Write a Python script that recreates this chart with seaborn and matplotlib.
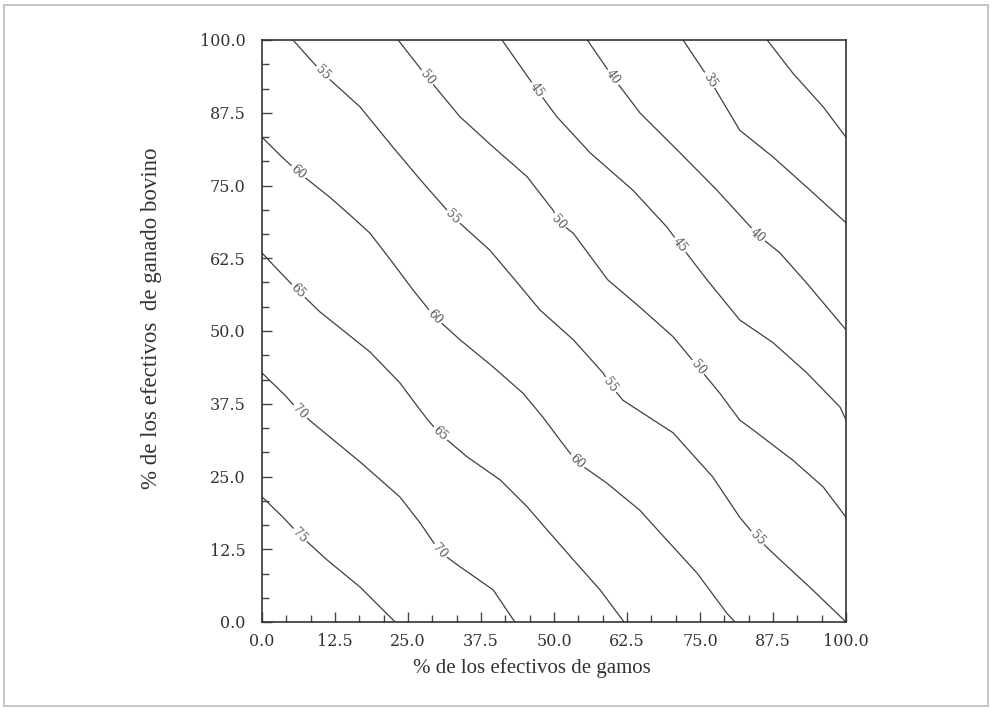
import numpy as np
import pandas as pd
import matplotlib
matplotlib.use("Agg")
import matplotlib.pyplot as plt
import seaborn as sns
from matplotlib.ticker import MultipleLocator, FormatStrFormatter
from matplotlib.patches import Rectangle

# ---------------- data ----------------
levels = [75, 70, 65, 60, 55, 50, 45, 40, 35, 30]

c75_x = [0, 3.6, 6.5, 11.1, 16.8, 22.8]
c75_y = [21.5, 18.0, 14.9, 10.7, 6.0, 0]

c70_x = [0, 3.9, 6.5, 8.7, 16.8, 23.6, 27.1, 30.5, 33.9, 39.6, 43.3]
c70_y = [42.8, 39.0, 36.1, 34.2, 27.5, 21.5, 17.0, 12.0, 9.5, 5.5, 0]

c65_x = [0, 3.1, 6.2, 9.9, 13.4, 18.5, 23.6, 26.2, 28.4, 30.5, 35.1, 40.8, 45.4, 48.5, 53.3, 57.9, 62.0]
c65_y = [63.4, 60.1, 56.9, 53.3, 50.5, 46.4, 41.1, 37.6, 34.7, 32.3, 28.4, 24.4, 19.8, 16.2, 10.7, 5.5, 0]

c60_x = [0, 3.1, 6.2, 11.6, 15.1, 18.5, 22.4, 25.9, 29.6, 33.9, 39.6, 44.7, 48.1, 51.0, 53.9, 59.0, 64.7, 69.3, 74.5, 79.6, 81.0]
c60_y = [83.3, 80.2, 77.3, 73.0, 69.9, 66.8, 61.7, 57.0, 52.4, 48.5, 43.8, 39.3, 35.2, 31.3, 27.5, 23.9, 19.2, 14.1, 8.4, 1.5, 0]

c55_x = [5.3, 10.4, 16.8, 22.4, 27.1, 32.7, 39.0, 43.3, 47.6, 53.3, 58.4, 59.6, 61.8, 70.4, 77.2, 81.8, 84.8, 88.7, 94.3, 100]
c55_y = [100, 94.3, 88.5, 81.6, 76.0, 69.6, 63.9, 58.8, 53.6, 48.5, 42.8, 40.8, 38.1, 32.5, 24.9, 18.0, 14.4, 10.7, 5.5, 0]

c50_x = [23.3, 28.3, 33.9, 39.6, 45.4, 49.8, 51.0, 53.3, 59.2, 64.7, 70.4, 74.7, 78.4, 81.8, 84.1, 90.9, 96.1, 100]
c50_y = [100, 93.6, 86.8, 81.6, 76.5, 70.8, 68.6, 66.8, 58.8, 54.1, 49.0, 43.8, 39.3, 34.7, 33.0, 27.8, 23.2, 18.0]

c45_x = [41.1, 47.1, 50.5, 56.2, 63.5, 69.3, 71.6, 76.2, 81.8, 87.5, 93.3, 99.0, 100]
c45_y = [100, 91.4, 86.8, 80.6, 74.2, 67.9, 64.8, 58.8, 51.9, 48.0, 42.8, 36.9, 34.7]

c40_x = [55.7, 60.1, 64.7, 71.6, 77.9, 83.0, 84.9, 88.7, 93.3, 100]
c40_y = [100, 93.6, 87.5, 80.6, 74.2, 68.6, 66.5, 63.4, 58.2, 50.2]

c35_x = [72.1, 76.7, 81.8, 87.5, 93.3, 100]
c35_y = [100, 93.1, 84.5, 79.9, 74.7, 68.6]

c30_x = [86.5, 90.9, 96.1, 100]
c30_y = [100, 94.3, 88.5, 83.3]

# contour labels: value and where it sits on the line
label_val = [75, 70, 70, 65, 65, 60, 60, 60, 55, 55, 55, 55, 50, 50, 50, 45, 45, 40, 40, 35]
label_x = [6.5, 6.5, 30.5, 6.2, 30.5, 6.2, 29.6, 53.9, 10.4, 32.7, 59.6, 84.8, 28.3, 50.7, 74.7, 47.1, 71.6, 60.1, 84.9, 76.7]
label_y = [14.9, 36.1, 12.2, 56.9, 32.3, 77.3, 52.4, 27.5, 94.3, 69.6, 40.7, 14.4, 93.6, 68.7, 43.8, 91.4, 64.8, 93.6, 66.5, 93.1]

x_ticks = [0, 12.5, 25, 37.5, 50, 62.5, 75, 87.5, 100]
y_ticks = [0, 12.5, 25, 37.5, 50, 62.5, 75, 87.5, 100]

xlabel = "% de los efectivos de gamos"
ylabel = "% de los efectivos  de ganado bovino"

# ---------------- build table ----------------
lines = {75: (c75_x, c75_y), 70: (c70_x, c70_y), 65: (c65_x, c65_y),
         60: (c60_x, c60_y), 55: (c55_x, c55_y), 50: (c50_x, c50_y),
         45: (c45_x, c45_y), 40: (c40_x, c40_y), 35: (c35_x, c35_y),
         30: (c30_x, c30_y)}
rows = []
for lv in levels:
    xs, ys = lines[lv]
    for i, (a, b) in enumerate(zip(xs, ys)):
        rows.append({"level": lv, "order": i, "x": a, "y": b})
df = pd.DataFrame(rows)

# ---------------- plot ----------------
sns.set_theme(style="white")
plt.rcParams["font.family"] = ["DejaVu Serif"]

fig = plt.figure(figsize=(9.92, 7.21), dpi=100)
ax = fig.add_axes([262 / 992, 1 - 622 / 721, 584 / 992, 582 / 721])

sns.lineplot(data=df, x="x", y="y", units="level", estimator=None, sort=False,
             color="#404040", linewidth=0.9, ax=ax, legend=False)

ax.set_xlim(0, 100)
ax.set_ylim(0, 100)

ax.set_xticks(x_ticks)
ax.set_yticks(y_ticks)
ax.xaxis.set_major_formatter(FormatStrFormatter("%.1f"))
ax.yaxis.set_major_formatter(FormatStrFormatter("%.1f"))
ax.xaxis.set_minor_locator(MultipleLocator(12.5 / 3))
ax.yaxis.set_minor_locator(MultipleLocator(12.5 / 3))
ax.tick_params(which="both", direction="in", top=False, right=False,
               bottom=True, left=True, color="#444444", width=1.0)
ax.tick_params(which="major", length=7)
ax.tick_params(which="minor", length=5)
ax.tick_params(axis="x", which="major", pad=8, labelsize=11.5, labelcolor="#333333")
ax.tick_params(axis="y", which="major", pad=12, labelsize=11.5, labelcolor="#333333")

for sp in ax.spines.values():
    sp.set_visible(True)
    sp.set_color("#333333")
    sp.set_linewidth(1.2)

ax.set_xlabel("")
ax.set_ylabel("")
fig.text(532 / 992, 1 - 668 / 721, xlabel, ha="center", va="center",
         fontsize=15, family="Liberation Serif", color="#333333")
fig.text(152 / 992, 1 - 318 / 721, ylabel, ha="center", va="center",
         rotation=90, fontsize=16.5, family="Liberation Serif", color="#333333")

# contour labels, rotated along their line
fig.canvas.draw()
for v, lx, ly in zip(label_val, label_x, label_y):
    xs, ys = lines[v]
    pts = ax.transData.transform(np.column_stack([xs, ys]))
    p = ax.transData.transform((lx, ly))
    d = np.hypot(pts[:, 0] - p[0], pts[:, 1] - p[1])
    i = int(np.argmin(d))
    i0, i1 = max(i - 1, 0), min(i + 1, len(xs) - 1)
    dx = pts[i1, 0] - pts[i0, 0]
    dy = pts[i1, 1] - pts[i0, 1]
    ang = np.degrees(np.arctan2(dy, dx))
    if ang > 90:
        ang -= 180
    if ang < -90:
        ang += 180
    ax.text(lx, ly, str(v), fontsize=8.5, color="#555555", ha="center",
            va="center", rotation=ang, rotation_mode="anchor",
            bbox=dict(boxstyle="square,pad=0.15", fc="white", ec="none"),
            zorder=5)

# outer frame of the figure
fig.patches.append(Rectangle((4 / 992, 1 - 706 / 721), 984 / 992, 701 / 721,
                             transform=fig.transFigure, fill=False,
                             ec="#bbbbbb", lw=1.2))

fig.savefig("out.png", dpi=100)
